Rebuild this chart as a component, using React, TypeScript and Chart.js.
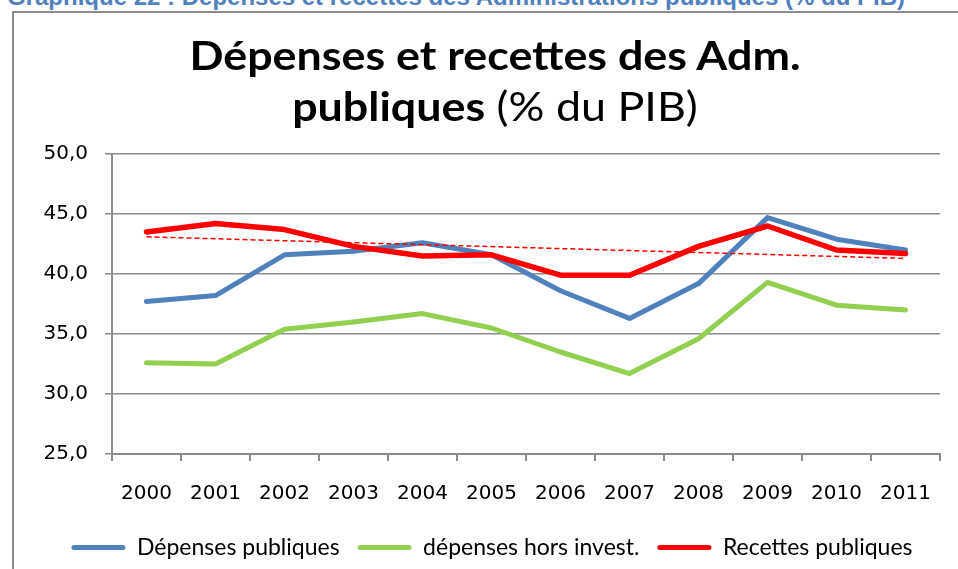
import React, { useEffect, useRef } from "react";
import { Chart, registerables } from "chart.js";

Chart.register(...registerables);

const years = ["2000", "2001", "2002", "2003", "2004", "2005", "2006", "2007", "2008", "2009", "2010", "2011"];
const depensesPubliques = [37.7, 38.2, 41.6, 41.9, 42.6, 41.6, 38.6, 36.3, 39.2, 44.7, 42.9, 42.0];
const depensesHorsInvest = [32.6, 32.5, 35.4, 36.0, 36.7, 35.5, 33.5, 31.7, 34.6, 39.3, 37.4, 37.0];
const recettesPubliques = [43.5, 44.2, 43.7, 42.3, 41.5, 41.6, 39.9, 39.9, 42.3, 44.0, 42.0, 41.7];
const tendanceRecettes = [43.1, null, null, null, null, null, null, null, null, null, null, 41.3];
const seriesLabels = ["Dépenses publiques", "dépenses hors invest.", "Recettes publiques", "Tendance"];
const yMin = 25;
const yMax = 50;
const yStep = 5;

const BLUE = "#4F81BD";
const GREEN = "#92D050";
const RED = "#FF0000";
const GRID = "#8C8C8C";

export default function App() {
  const canvasRef = useRef<HTMLCanvasElement | null>(null);

  useEffect(() => {
    const canvas = canvasRef.current;
    if (!canvas) return;
    const chart = new Chart(canvas, {
      type: "line",
      data: {
        labels: years,
        datasets: [
          {
            label: seriesLabels[0],
            data: depensesPubliques,
            borderColor: BLUE,
            backgroundColor: BLUE,
            borderWidth: 5,
            order: 3,
          },
          {
            label: seriesLabels[1],
            data: depensesHorsInvest,
            borderColor: GREEN,
            backgroundColor: GREEN,
            borderWidth: 5,
            order: 2,
          },
          {
            label: seriesLabels[2],
            data: recettesPubliques,
            borderColor: RED,
            backgroundColor: RED,
            borderWidth: 5.5,
            order: 1,
          },
          {
            label: seriesLabels[3],
            data: tendanceRecettes,
            borderColor: RED,
            backgroundColor: RED,
            borderWidth: 1.5,
            borderDash: [5, 3],
            spanGaps: true,
            borderCapStyle: "butt",
            order: 0,
          },
        ],
      },
      options: {
        responsive: false,
        devicePixelRatio: 1,
        animation: false,
        elements: {
          point: { radius: 0, hoverRadius: 0 },
          line: { tension: 0, borderCapStyle: "round", borderJoinStyle: "round" },
        },
        layout: { padding: { left: 44, right: 18, top: 154, bottom: 0 } },
        scales: {
          x: {
            offset: true,
            afterFit: (scale: any) => {
              scale.height = 64;
            },
            grid: {
              offset: true,
              drawOnChartArea: false,
              drawTicks: true,
              tickLength: 7,
              color: GRID,
              lineWidth: 2,
            },
            border: { display: true, color: GRID, width: 2 },
            ticks: {
              color: "#000",
              padding: 21,
              maxRotation: 0,
              autoSkip: false,
              font: { family: "DejaVu Sans", size: 20 },
            },
          },
          y: {
            min: yMin,
            max: yMax,
            afterFit: (scale: any) => {
              scale.width = 68;
            },
            grid: {
              drawOnChartArea: true,
              drawTicks: true,
              tickLength: 7,
              color: GRID,
              lineWidth: 1.5,
            },
            border: { display: true, color: GRID, width: 2 },
            ticks: {
              stepSize: yStep,
              color: "#000",
              padding: 17,
              font: { family: "DejaVu Sans", size: 20 },
              callback: (v: any) => Number(v).toFixed(1).replace(".", ","),
            },
          },
        },
        plugins: {
          title: { display: false },
          tooltip: { enabled: false },
          legend: {
            display: true,
            position: "bottom",
            align: "center",
            labels: {
              boxWidth: 54,
              boxHeight: 5,
              padding: 18,
              color: "#000",
              useBorderRadius: true,
              borderRadius: 2.5,
              font: { family: "Lato", size: 23 },
              generateLabels: (c: any) =>
                c.data.datasets.slice(0, 3).map((ds: any, i: number) => ({
                  text: ds.label,
                  fillStyle: ds.borderColor,
                  strokeStyle: ds.borderColor,
                  lineWidth: 0,
                  hidden: false,
                  datasetIndex: i,
                  fontColor: "#000",
                  borderRadius: 2.5,
                })),
            },
          },
        },
      },
    });
    return () => chart.destroy();
  }, []);

  return (
    <div
      style={{
        position: "absolute",
        left: 0,
        top: 0,
        width: 958,
        height: 569,
        overflow: "hidden",
        background: "#fff",
      }}
    >
      <div
        style={{
          position: "absolute",
          left: 7,
          top: -15,
          whiteSpace: "nowrap",
          fontFamily: "'Liberation Sans', Arial, sans-serif",
          fontWeight: "bold",
          fontSize: 24,
          lineHeight: "24px",
          color: BLUE,
        }}
      >
        Graphique 22 : Dépenses et recettes des Administrations publiques (% du PIB)
      </div>
      <div
        style={{
          position: "absolute",
          left: 12,
          top: 11,
          width: 960,
          height: 620,
          border: "2px solid #8C8C8C",
          boxSizing: "border-box",
        }}
      />
      <canvas
        ref={canvasRef}
        width={958}
        height={569}
        style={{ position: "absolute", left: 0, top: 0, width: 958, height: 569, display: "block" }}
      />
      <div
        style={{
          position: "absolute",
          left: 95,
          top: 31,
          width: 800,
          textAlign: "center",
          fontFamily: "Lato, sans-serif",
          fontSize: 40,
          lineHeight: "48px",
          color: "#000",
          whiteSpace: "nowrap",
          transform: "scaleX(1.12)",
          transformOrigin: "center",
        }}
      >
        <div style={{ fontWeight: "bold" }}>Dépenses et recettes des Adm.</div>
        <div style={{ marginTop: 3 }}>
          <span style={{ fontWeight: "bold" }}>publiques</span>
          <span style={{ fontWeight: "normal" }}> (% du PIB)</span>
        </div>
      </div>
    </div>
  );
}
